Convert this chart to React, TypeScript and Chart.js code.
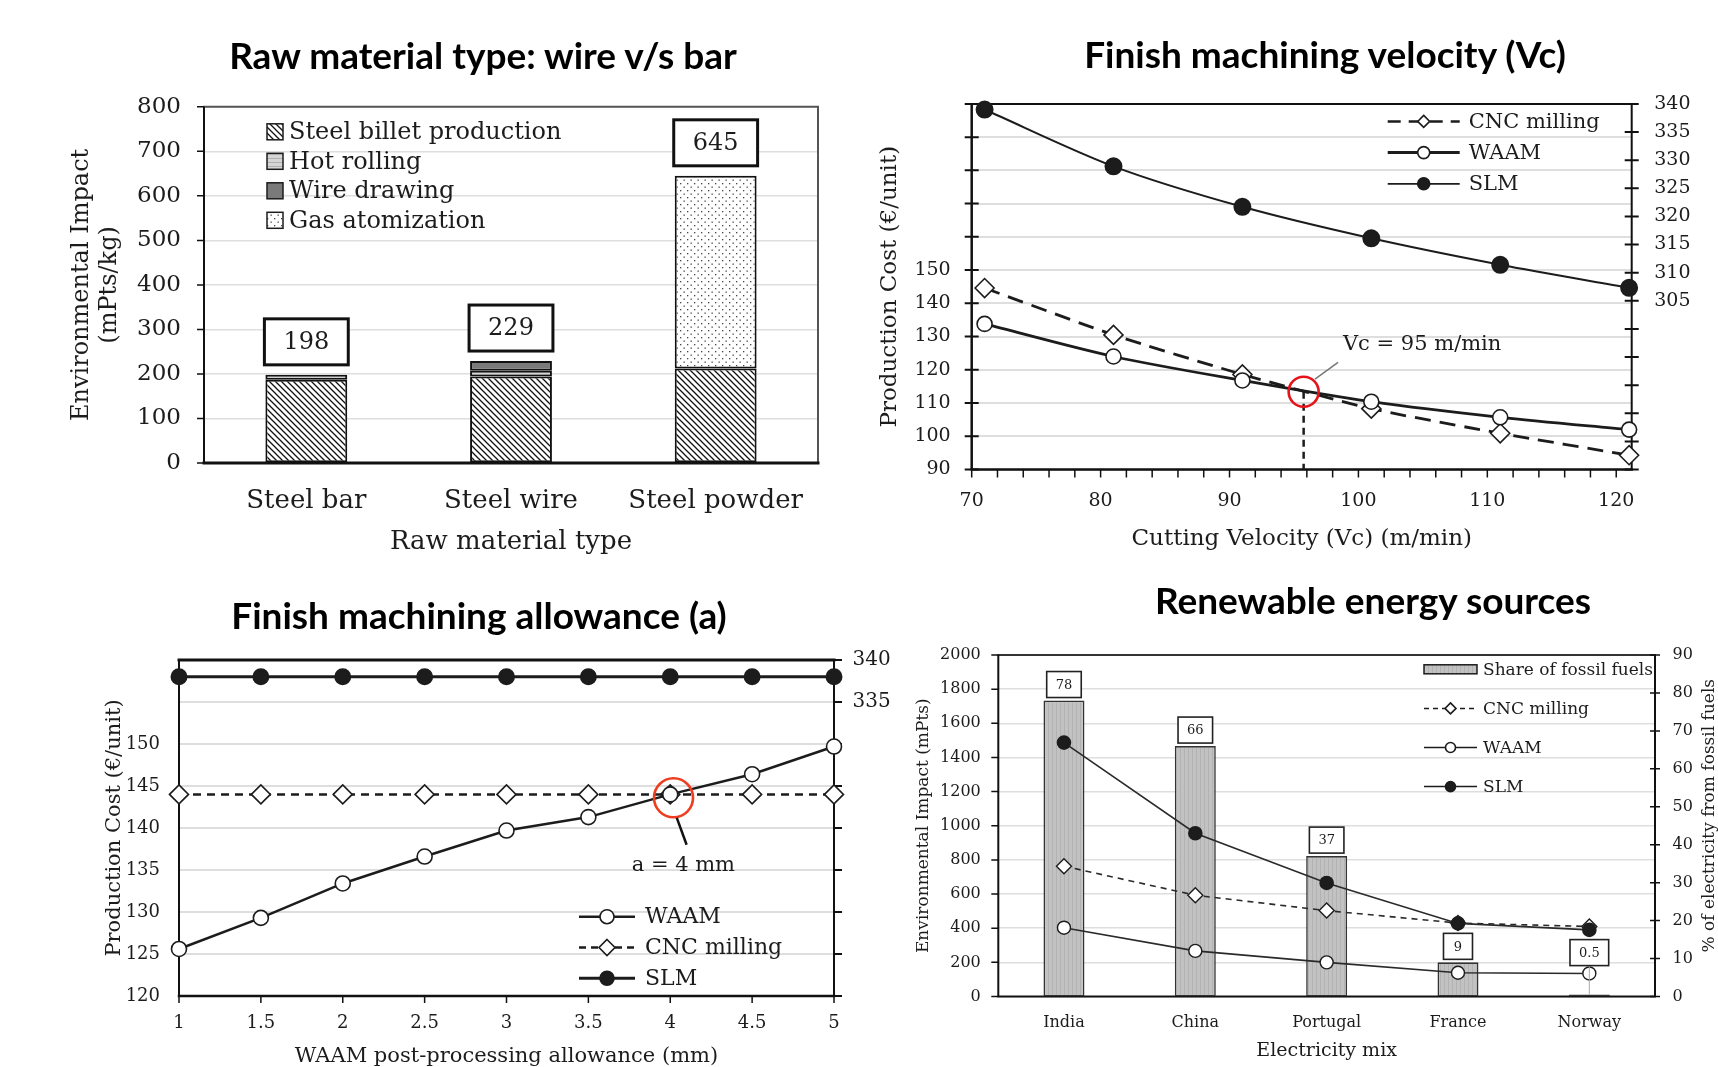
import { useEffect, useRef } from "react";
import { Chart, registerables } from "chart.js";

Chart.register(...registerables);

const SERIF = '"DejaVu Serif", "Liberation Serif", serif';
const TITLE_FAMILY = 'Lato, "Open Sans", sans-serif';
const INK = "#1c1c1c";
const GRID = "#dedede";

// ---------------- Panel 1: Raw material type ----------------
const rawCategories = ["Steel bar", "Steel wire", "Steel powder"];
const billetProduction = [187, 194, 212];
const hotRolling = [11, 13, null];
const wireDrawing = [null, 22, null];
const gasAtomization = [null, null, 433];
const rawTotals = [198, 229, 645];
const rawTotalLabels = ["198", "229", "645"];
const rawYTicks = [0, 100, 200, 300, 400, 500, 600, 700, 800];

// ---------------- Panel 2: Finish machining velocity ----------------
const velocityX = [71, 81, 91, 101, 111, 121];
const velocityCnc = [144.6, 130.5, 118.6, 108.3, 100.9, 94.3];
const velocityWaam = [133.8, 124.0, 116.8, 110.4, 105.7, 102.0];
const velocitySlm = [339.0, 328.9, 321.7, 316.1, 311.4, 307.3];
const velocityXTicks = [70, 72, 74, 76, 78, 80, 82, 84, 86, 88, 90, 92, 94, 96, 98, 100, 102, 104, 106, 108, 110, 112, 114, 116, 118, 120];
const velocityCostTicks = [90, 100, 110, 120, 130, 140, 150, 160, 170, 180, 190, 200];
const velocitySlmTicks = [275, 280, 285, 290, 295, 300, 305, 310, 315, 320, 325, 330, 335, 340];
const velocityBreakEvenX = 95.75;
const velocityBreakEvenCost = 113.4;
const velocityBreakEvenLabel = "Vc = 95 m/min";

// ---------------- Panel 3: Finish machining allowance ----------------
const allowanceX = [1, 1.5, 2, 2.5, 3, 3.5, 4, 4.5, 5];
const allowanceWaam = [125.6, 129.3, 133.4, 136.6, 139.7, 141.3, 144.0, 146.4, 149.7];
const allowanceCnc = [144.0, 144.0, 144.0, 144.0, 144.0, 144.0, 144.0, 144.0, 144.0];
const allowanceSlm = [338.0, 338.0, 338.0, 338.0, 338.0, 338.0, 338.0, 338.0, 338.0];
const allowanceXTicks = [1, 1.5, 2, 2.5, 3, 3.5, 4, 4.5, 5];
const allowanceCostTicks = [120, 125, 130, 135, 140, 145, 150, 155, 160];
const allowanceSlmTicks = [300, 305, 310, 315, 320, 325, 330, 335, 340];
const allowanceBreakEvenX = 4.02;
const allowanceBreakEvenCost = 143.6;
const allowanceBreakEvenLabel = "a = 4 mm";

// ---------------- Panel 4: Renewable energy sources ----------------
const mixCategories = ["India", "China", "Portugal", "France", "Norway"];
const fossilShare = [78, 66, 37, 9, 0.5];
const fossilShareLabels = ["78", "66", "37", "9", "0.5"];
const mixCnc = [763, 593, 503, 430, 410];
const mixWaam = [403, 267, 200, 139, 135];
const mixSlm = [1487, 956, 665, 428, 390];
const mixImpactTicks = [0, 200, 400, 600, 800, 1000, 1200, 1400, 1600, 1800, 2000];
const mixShareTicks = [0, 10, 20, 30, 40, 50, 60, 70, 80, 90];

// ---------------- helpers ----------------
function font(size: number) {
  return `${size}px ${SERIF}`;
}

function makeTile(w: number, h: number, paint: (g: CanvasRenderingContext2D) => void) {
  const c = document.createElement("canvas");
  c.width = w;
  c.height = h;
  paint(c.getContext("2d")!);
  return c;
}

function hatchPattern(ctx: CanvasRenderingContext2D) {
  const t = makeTile(6, 6, (g) => {
    g.fillStyle = "#fff";
    g.fillRect(0, 0, 6, 6);
    g.strokeStyle = "#111";
    g.lineWidth = 1.3;
    g.beginPath();
    g.moveTo(-1, -1);
    g.lineTo(7, 7);
    g.moveTo(-1, 5);
    g.lineTo(1, 7);
    g.moveTo(5, -1);
    g.lineTo(7, 1);
    g.stroke();
  });
  return ctx.createPattern(t, "repeat")!;
}

function lightPattern(ctx: CanvasRenderingContext2D) {
  const t = makeTile(4, 4, (g) => {
    g.fillStyle = "#d6d6d6";
    g.fillRect(0, 0, 4, 4);
    g.fillStyle = "#b0b0b0";
    g.fillRect(0, 0, 4, 1);
  });
  return ctx.createPattern(t, "repeat")!;
}

function dotPattern(ctx: CanvasRenderingContext2D) {
  const t = makeTile(7, 7, (g) => {
    g.fillStyle = "#fff";
    g.fillRect(0, 0, 7, 7);
    g.fillStyle = "#444";
    g.fillRect(1, 1, 1.3, 1.3);
    g.fillRect(4.5, 4.5, 1.3, 1.3);
  });
  return ctx.createPattern(t, "repeat")!;
}

function stripePattern(ctx: CanvasRenderingContext2D) {
  const t = makeTile(4, 4, (g) => {
    g.fillStyle = "#c2c2c2";
    g.fillRect(0, 0, 4, 4);
    g.fillStyle = "#b2b2b2";
    g.fillRect(0, 0, 1, 4);
  });
  return ctx.createPattern(t, "repeat")!;
}

function drawMarker(ctx: CanvasRenderingContext2D, kind: string, x: number, y: number, r: number) {
  ctx.save();
  ctx.setLineDash([]);
  ctx.beginPath();
  if (kind === "diamond") {
    ctx.moveTo(x, y - r);
    ctx.lineTo(x + r, y);
    ctx.lineTo(x, y + r);
    ctx.lineTo(x - r, y);
    ctx.closePath();
  } else {
    ctx.arc(x, y, r, 0, Math.PI * 2);
  }
  ctx.fillStyle = kind === "dot" ? INK : "#fff";
  ctx.fill();
  ctx.lineWidth = 1.6;
  ctx.strokeStyle = INK;
  ctx.stroke();
  ctx.restore();
}

type Side = { side: "top" | "right" | "bottom" | "left"; color: string; width: number };
function framePlugin(sides: Side[]) {
  return {
    id: "frame",
    beforeDatasetsDraw(chart: any) {
      const { ctx, chartArea: a } = chart;
      ctx.save();
      sides.forEach((s) => {
        ctx.strokeStyle = s.color;
        ctx.lineWidth = s.width;
        ctx.beginPath();
        if (s.side === "top") {
          ctx.moveTo(a.left - s.width / 2, a.top);
          ctx.lineTo(a.right + s.width / 2, a.top);
        } else if (s.side === "bottom") {
          ctx.moveTo(a.left - s.width / 2, a.bottom);
          ctx.lineTo(a.right + s.width / 2, a.bottom);
        } else if (s.side === "left") {
          ctx.moveTo(a.left, a.top);
          ctx.lineTo(a.left, a.bottom);
        } else {
          ctx.moveTo(a.right, a.top);
          ctx.lineTo(a.right, a.bottom);
        }
        ctx.stroke();
      });
      ctx.restore();
    },
  };
}

type MarkSpec = { axis: string; inner: number; outer: number; width: number; color: string };
function marksPlugin(specs: MarkSpec[]) {
  return {
    id: "marks",
    beforeDatasetsDraw(chart: any) {
      const ctx = chart.ctx;
      specs.forEach((sp) => {
        const s = chart.scales[sp.axis];
        ctx.save();
        ctx.strokeStyle = sp.color;
        ctx.lineWidth = sp.width;
        ctx.beginPath();
        s.ticks.forEach((_t: any, i: number) => {
          const p = s.getPixelForTick(i);
          if (s.position === "left") {
            ctx.moveTo(s.right - sp.outer, p);
            ctx.lineTo(s.right + sp.inner, p);
          } else if (s.position === "right") {
            ctx.moveTo(s.left - sp.inner, p);
            ctx.lineTo(s.left + sp.outer, p);
          } else {
            ctx.moveTo(p, s.top - sp.inner);
            ctx.lineTo(p, s.top + sp.outer);
          }
        });
        ctx.stroke();
        ctx.restore();
      });
    },
  };
}

type LegendEntry = {
  label: string;
  kind: "box" | "line";
  fill?: any;
  dash?: number[];
  lineWidth?: number;
  marker?: string;
  markerR?: number;
};
type LegendCfg = { x: number; y: number; row: number; symW: number; symH: number; gap: number; size: number; items: LegendEntry[] };
function legendPlugin(cfg: LegendCfg) {
  return {
    id: "customLegend",
    afterDatasetsDraw(chart: any) {
      const { ctx, chartArea: a } = chart;
      ctx.save();
      cfg.items.forEach((it, i) => {
        const x0 = a.left + cfg.x;
        const cy = a.top + cfg.y + i * cfg.row;
        if (it.kind === "box") {
          ctx.fillStyle = it.fill;
          ctx.fillRect(x0, cy - cfg.symH / 2, cfg.symW, cfg.symH);
          ctx.lineWidth = 1.5;
          ctx.strokeStyle = INK;
          ctx.strokeRect(x0, cy - cfg.symH / 2, cfg.symW, cfg.symH);
        } else {
          ctx.save();
          ctx.strokeStyle = INK;
          ctx.lineWidth = it.lineWidth || 2;
          ctx.setLineDash(it.dash || []);
          ctx.beginPath();
          ctx.moveTo(x0, cy);
          ctx.lineTo(x0 + cfg.symW, cy);
          ctx.stroke();
          ctx.restore();
          if (it.marker) drawMarker(ctx, it.marker, x0 + cfg.symW / 2, cy, it.markerR || 5);
        }
        ctx.fillStyle = INK;
        ctx.font = font(cfg.size);
        ctx.textAlign = "left";
        ctx.textBaseline = "middle";
        ctx.fillText(it.label, x0 + cfg.symW + cfg.gap, cy + 1);
      });
      ctx.restore();
    },
  };
}

type Callout = {
  x: number;
  y: number;
  yAxis: string;
  r: number;
  ring: string;
  drop: boolean;
  leader: number[];
  leaderColor: string;
  leaderWidth: number;
  text: string;
  tx: number;
  ty: number;
  size: number;
  align: CanvasTextAlign;
};
function calloutPlugin(c: Callout) {
  return {
    id: "callout",
    afterDatasetsDraw(chart: any) {
      const { ctx, chartArea: a } = chart;
      const xs = chart.scales.x;
      const ys = chart.scales[c.yAxis];
      const cx = xs.getPixelForValue(c.x);
      const cy = ys.getPixelForValue(c.y);
      ctx.save();
      if (c.drop) {
        ctx.strokeStyle = INK;
        ctx.lineWidth = 2.5;
        ctx.setLineDash([7, 5]);
        ctx.beginPath();
        ctx.moveTo(cx, cy);
        ctx.lineTo(cx, a.bottom);
        ctx.stroke();
        ctx.setLineDash([]);
      }
      ctx.strokeStyle = c.ring;
      ctx.lineWidth = 2.6;
      ctx.beginPath();
      ctx.arc(cx, cy, c.r, 0, Math.PI * 2);
      ctx.stroke();
      ctx.strokeStyle = c.leaderColor;
      ctx.lineWidth = c.leaderWidth;
      ctx.beginPath();
      ctx.moveTo(xs.getPixelForValue(c.leader[0]), ys.getPixelForValue(c.leader[1]));
      ctx.lineTo(xs.getPixelForValue(c.leader[2]), ys.getPixelForValue(c.leader[3]));
      ctx.stroke();
      ctx.fillStyle = INK;
      ctx.font = font(c.size);
      ctx.textAlign = c.align;
      ctx.textBaseline = "middle";
      ctx.fillText(c.text, xs.getPixelForValue(c.tx), ys.getPixelForValue(c.ty));
      ctx.restore();
    },
  };
}

function stackTotalsPlugin(totals: number[], labels: string[]) {
  return {
    id: "stackTotals",
    afterDatasetsDraw(chart: any) {
      const { ctx } = chart;
      const xs = chart.scales.x;
      const ys = chart.scales.y;
      const meta = chart.getDatasetMeta(0);
      ctx.save();
      totals.forEach((t, i) => {
        const w = meta.data[i].width + 2;
        const cx = xs.getPixelForValue(i);
        const bottom = ys.getPixelForValue(t) - 10;
        const h = 46;
        ctx.fillStyle = "#fff";
        ctx.fillRect(cx - w / 2, bottom - h, w, h);
        ctx.strokeStyle = "#111";
        ctx.lineWidth = 3;
        ctx.strokeRect(cx - w / 2, bottom - h, w, h);
        ctx.fillStyle = INK;
        ctx.font = font(24);
        ctx.textAlign = "center";
        ctx.textBaseline = "middle";
        ctx.fillText(labels[i], cx, bottom - h / 2 + 1);
      });
      ctx.restore();
    },
  };
}

function shareLabelsPlugin(values: number[], labels: string[], lifts: number[]) {
  return {
    id: "shareLabels",
    afterDatasetsDraw(chart: any) {
      const { ctx } = chart;
      const xs = chart.scales.x;
      const ys = chart.scales.y1;
      ctx.save();
      ctx.font = font(13);
      values.forEach((v, i) => {
        const cx = xs.getPixelForValue(i);
        const barTop = ys.getPixelForValue(v);
        const bottom = barTop - 3 - lifts[i];
        const h = 26;
        const w = Math.max(ctx.measureText(labels[i]).width + 18, 29);
        if (lifts[i] > 0) {
          ctx.strokeStyle = "#aaa";
          ctx.lineWidth = 1;
          ctx.beginPath();
          ctx.moveTo(cx, bottom);
          ctx.lineTo(cx, barTop);
          ctx.stroke();
        }
        ctx.fillStyle = "#fff";
        ctx.fillRect(cx - w / 2, bottom - h, w, h);
        ctx.strokeStyle = "#222";
        ctx.lineWidth = 1.6;
        ctx.strokeRect(cx - w / 2, bottom - h, w, h);
        ctx.fillStyle = INK;
        ctx.textAlign = "center";
        ctx.textBaseline = "middle";
        ctx.fillText(labels[i], cx, bottom - h / 2 + 1);
      });
      ctx.restore();
    },
  };
}

function sideTitlePlugin(text: string, size: number, dx: number) {
  return {
    id: "sideTitle",
    afterDraw(chart: any) {
      const { ctx, chartArea: a } = chart;
      ctx.save();
      ctx.translate(a.right + dx, (a.top + a.bottom) / 2 - 10);
      ctx.rotate(-Math.PI / 2);
      ctx.fillStyle = INK;
      ctx.font = font(size);
      ctx.textAlign = "center";
      ctx.textBaseline = "middle";
      ctx.fillText(text, 0, 0);
      ctx.restore();
    },
  };
}

function setTicks(values: number[]) {
  return (s: any) => {
    s.ticks = values.map((v) => ({ value: v }));
  };
}

const plain = (v: number) => String(v);

const baseOptions = {
  responsive: false,
  animation: false,
  devicePixelRatio: 1,
  events: [],
};
const noPlugins = { legend: { display: false }, tooltip: { enabled: false } };

// ---------------- chart builders ----------------
function buildRaw(ctx: CanvasRenderingContext2D): any {
  const hatch = hatchPattern(ctx);
  const light = lightPattern(ctx);
  const dots = dotPattern(ctx);
  const common = { borderColor: "#111", borderWidth: 2, barPercentage: 0.4, categoryPercentage: 1, borderSkipped: false };
  return {
    type: "bar",
    data: {
      labels: rawCategories,
      datasets: [
        { label: "Steel billet production", data: billetProduction, backgroundColor: hatch, ...common },
        { label: "Hot rolling", data: hotRolling, backgroundColor: light, ...common },
        { label: "Wire drawing", data: wireDrawing, backgroundColor: "#7a7a7a", ...common },
        { label: "Gas atomization", data: gasAtomization, backgroundColor: dots, ...common },
      ],
    },
    options: {
      ...baseOptions,
      layout: { padding: { top: 31, right: 42, left: 0, bottom: 0 } },
      plugins: noPlugins,
      scales: {
        x: {
          stacked: true,
          grid: { display: false, drawTicks: false },
          border: { display: false },
          ticks: { font: { family: SERIF, size: 26 }, color: INK, padding: 23 },
          title: { display: true, text: "Raw material type", font: { family: SERIF, size: 26 }, color: INK, padding: { top: 0, bottom: 2 } },
          afterFit: (s: any) => {
            s.height = 97;
          },
        },
        y: {
          stacked: true,
          min: 0,
          max: 800,
          afterBuildTicks: setTicks(rawYTicks),
          grid: { color: GRID, lineWidth: 1.5, drawTicks: false },
          border: { display: false },
          ticks: { font: { family: SERIF, size: 23 }, color: INK, padding: 23, callback: plain },
          title: {
            display: true,
            text: ["Environmental Impact", "(mPts/kg)"],
            font: { family: SERIF, size: 24, lineHeight: 1.17 },
            color: INK,
            padding: { top: 68, bottom: 0 },
          },
          afterFit: (s: any) => {
            s.width = 204;
          },
        },
      },
    },
    plugins: [
      framePlugin([
        { side: "top", color: "#555", width: 2 },
        { side: "right", color: "#555", width: 2 },
        { side: "left", color: "#111", width: 2 },
        { side: "bottom", color: "#111", width: 3 },
      ]),
      marksPlugin([{ axis: "y", inner: 0, outer: 7, width: 1.5, color: "#111" }]),
      legendPlugin({
        x: 63,
        y: 25,
        row: 29.5,
        symW: 16,
        symH: 16,
        gap: 6,
        size: 24,
        items: [
          { label: "Steel billet production", kind: "box", fill: hatch },
          { label: "Hot rolling", kind: "box", fill: light },
          { label: "Wire drawing", kind: "box", fill: "#7a7a7a" },
          { label: "Gas atomization", kind: "box", fill: dots },
        ],
      }),
      stackTotalsPlugin(rawTotals, rawTotalLabels),
    ],
  };
}

function buildVelocity(_ctx: CanvasRenderingContext2D): any {
  const pts = (ys: number[]) => velocityX.map((x, i) => ({ x, y: ys[i] }));
  return {
    type: "line",
    data: {
      datasets: [
        {
          label: "SLM",
          yAxisID: "y1",
          data: pts(velocitySlm),
          borderColor: INK,
          borderWidth: 2,
          tension: 0.3,
          pointStyle: "circle",
          pointRadius: 8,
          pointBackgroundColor: INK,
          pointBorderColor: INK,
          clip: false,
        },
        {
          label: "WAAM",
          yAxisID: "y",
          data: pts(velocityWaam),
          borderColor: INK,
          borderWidth: 2.8,
          tension: 0.3,
          pointStyle: "circle",
          pointRadius: 7.5,
          pointBackgroundColor: "#fff",
          pointBorderColor: INK,
          pointBorderWidth: 1.6,
          clip: false,
        },
        {
          label: "CNC milling",
          yAxisID: "y",
          data: pts(velocityCnc),
          borderColor: INK,
          borderWidth: 2.8,
          borderDash: [16, 9],
          tension: 0.2,
          pointStyle: "rectRot",
          pointRadius: 9.5,
          pointBackgroundColor: "#fff",
          pointBorderColor: INK,
          pointBorderWidth: 1.6,
          clip: false,
        },
      ],
    },
    options: {
      ...baseOptions,
      layout: { padding: { top: 28, right: 0, left: 0, bottom: 0 } },
      plugins: noPlugins,
      scales: {
        x: {
          type: "linear",
          min: 70,
          max: 121.2,
          afterBuildTicks: setTicks(velocityXTicks),
          grid: { display: false, drawTicks: false },
          border: { display: false },
          ticks: {
            font: { family: SERIF, size: 19 },
            color: INK,
            padding: 20,
            autoSkip: false,
            maxRotation: 0,
            callback: (v: number) => (v % 10 === 0 ? String(v) : ""),
          },
          title: { display: true, text: "Cutting Velocity (Vc) (m/min)", font: { family: SERIF, size: 23 }, color: INK, padding: { top: 0, bottom: 7 } },
          afterFit: (s: any) => {
            s.height = 90.5;
          },
        },
        y: {
          position: "left",
          min: 90,
          max: 200,
          afterBuildTicks: setTicks(velocityCostTicks),
          grid: { color: GRID, lineWidth: 2, drawTicks: false },
          border: { display: false },
          ticks: { font: { family: SERIF, size: 19 }, color: INK, padding: 21, callback: (v: number) => (v <= 150 ? String(v) : "") },
          title: { display: true, text: "Production Cost (€/unit)", font: { family: SERIF, size: 23 }, color: INK, padding: { top: 16, bottom: 0 } },
          afterFit: (s: any) => {
            s.width = 111.7;
          },
        },
        y1: {
          position: "right",
          min: 275,
          max: 340,
          afterBuildTicks: setTicks(velocitySlmTicks),
          grid: { display: false, drawTicks: false },
          border: { display: false },
          ticks: { font: { family: SERIF, size: 19 }, color: INK, padding: 22.5, callback: (v: number) => (v >= 305 ? String(v) : "") },
          afterFit: (s: any) => {
            s.width = 86.3;
          },
        },
      },
    },
    plugins: [
      framePlugin([
        { side: "top", color: "#111", width: 2 },
        { side: "right", color: "#111", width: 2 },
        { side: "left", color: "#111", width: 2.5 },
        { side: "bottom", color: "#111", width: 2.5 },
      ]),
      marksPlugin([
        { axis: "y", inner: 7, outer: 7, width: 2, color: "#111" },
        { axis: "y1", inner: 7, outer: 7, width: 2, color: "#111" },
        { axis: "x", inner: 0, outer: 8, width: 1.5, color: "#111" },
      ]),
      legendPlugin({
        x: 416,
        y: 17.5,
        row: 31.2,
        symW: 72,
        symH: 0,
        gap: 9,
        size: 21,
        items: [
          { label: "CNC milling", kind: "line", dash: [13, 8], lineWidth: 2.5, marker: "diamond", markerR: 6 },
          { label: "WAAM", kind: "line", lineWidth: 3, marker: "circle", markerR: 6 },
          { label: "SLM", kind: "line", lineWidth: 1.8, marker: "dot", markerR: 6 },
        ],
      }),
      calloutPlugin({
        x: velocityBreakEvenX,
        y: velocityBreakEvenCost,
        yAxis: "y",
        r: 15,
        ring: "#e5141b",
        drop: true,
        leader: [96.63, 117.2, 98.42, 122.2],
        leaderColor: "#777",
        leaderWidth: 1.5,
        text: velocityBreakEvenLabel,
        tx: 98.8,
        ty: 127.5,
        size: 21,
        align: "left",
      }),
    ],
  };
}

function buildAllowance(_ctx: CanvasRenderingContext2D): any {
  const pts = (ys: number[]) => allowanceX.map((x, i) => ({ x, y: ys[i] }));
  return {
    type: "line",
    data: {
      datasets: [
        {
          label: "WAAM",
          yAxisID: "y",
          data: pts(allowanceWaam),
          borderColor: INK,
          borderWidth: 2.5,
          pointStyle: "circle",
          pointRadius: 7.5,
          pointBackgroundColor: "#fff",
          pointBorderColor: INK,
          pointBorderWidth: 1.6,
          clip: false,
        },
        {
          label: "CNC milling",
          yAxisID: "y",
          data: pts(allowanceCnc),
          borderColor: INK,
          borderWidth: 2.5,
          borderDash: [8, 6],
          pointStyle: "rectRot",
          pointRadius: 9.5,
          pointBackgroundColor: "#fff",
          pointBorderColor: INK,
          pointBorderWidth: 1.6,
          clip: false,
        },
        {
          label: "SLM",
          yAxisID: "y1",
          data: pts(allowanceSlm),
          borderColor: INK,
          borderWidth: 3,
          pointStyle: "circle",
          pointRadius: 7,
          pointBackgroundColor: INK,
          pointBorderColor: INK,
          clip: false,
        },
      ],
    },
    options: {
      ...baseOptions,
      layout: { padding: { top: 80, right: 0, left: 0, bottom: 0 } },
      plugins: noPlugins,
      scales: {
        x: {
          type: "linear",
          min: 1,
          max: 5,
          afterBuildTicks: setTicks(allowanceXTicks),
          grid: { display: false, drawTicks: false },
          border: { display: false },
          ticks: { font: { family: SERIF, size: 18 }, color: INK, padding: 17, autoSkip: false, maxRotation: 0, callback: plain },
          title: {
            display: true,
            text: "WAAM post-processing allowance (mm)",
            font: { family: SERIF, size: 21 },
            color: INK,
            padding: { top: 0, bottom: -2 },
          },
          afterFit: (s: any) => {
            s.height = 71;
          },
        },
        y: {
          position: "left",
          min: 120,
          max: 160,
          afterBuildTicks: setTicks(allowanceCostTicks),
          grid: { color: GRID, lineWidth: 2, drawTicks: false },
          border: { display: false },
          ticks: { font: { family: SERIF, size: 18 }, color: INK, padding: 19, callback: (v: number) => (v <= 150 ? String(v) : "") },
          title: { display: true, text: "Production Cost (€/unit)", font: { family: SERIF, size: 21 }, color: INK, padding: { top: 102, bottom: 0 } },
          afterFit: (s: any) => {
            s.width = 179;
          },
        },
        y1: {
          position: "right",
          min: 300,
          max: 340,
          afterBuildTicks: setTicks(allowanceSlmTicks),
          grid: { display: false, drawTicks: false },
          border: { display: false },
          ticks: { font: { family: SERIF, size: 20 }, color: INK, padding: 18.5, callback: (v: number) => (v >= 335 ? String(v) : "") },
          afterFit: (s: any) => {
            s.width = 66;
          },
        },
      },
    },
    plugins: [
      framePlugin([
        { side: "top", color: "#111", width: 3 },
        { side: "right", color: "#111", width: 2 },
        { side: "left", color: "#111", width: 2 },
        { side: "bottom", color: "#111", width: 2.5 },
      ]),
      marksPlugin([
        { axis: "y1", inner: 0, outer: 8, width: 2, color: "#111" },
        { axis: "x", inner: 0, outer: 7, width: 1.5, color: "#111" },
      ]),
      legendPlugin({
        x: 400,
        y: 256.7,
        row: 30.8,
        symW: 56,
        symH: 0,
        gap: 10,
        size: 22,
        items: [
          { label: "WAAM", kind: "line", lineWidth: 2.5, marker: "circle", markerR: 7 },
          { label: "CNC milling", kind: "line", dash: [7, 5], lineWidth: 2.5, marker: "diamond", markerR: 8 },
          { label: "SLM", kind: "line", lineWidth: 3, marker: "dot", markerR: 7 },
        ],
      }),
      calloutPlugin({
        x: allowanceBreakEvenX,
        y: allowanceBreakEvenCost,
        yAxis: "y",
        r: 19.5,
        ring: "#ee3d1f",
        drop: false,
        leader: [4.04, 141.2, 4.1, 138.0],
        leaderColor: "#111",
        leaderWidth: 2.5,
        text: allowanceBreakEvenLabel,
        tx: 4.08,
        ty: 135.5,
        size: 21,
        align: "center",
      }),
    ],
  };
}

function buildMix(ctx: CanvasRenderingContext2D): any {
  const stripes = stripePattern(ctx);
  return {
    type: "bar",
    data: {
      labels: mixCategories,
      datasets: [
        {
          type: "line",
          label: "SLM",
          yAxisID: "y",
          data: mixSlm,
          order: 1,
          borderColor: "#2a2a2a",
          borderWidth: 1.6,
          pointStyle: "circle",
          pointRadius: 6.5,
          pointBackgroundColor: INK,
          pointBorderColor: INK,
          clip: false,
        },
        {
          type: "line",
          label: "CNC milling",
          yAxisID: "y",
          data: mixCnc,
          order: 1,
          borderColor: "#2a2a2a",
          borderWidth: 1.6,
          borderDash: [6, 5],
          pointStyle: "rectRot",
          pointRadius: 7.5,
          pointBackgroundColor: "#fff",
          pointBorderColor: INK,
          pointBorderWidth: 1.4,
          clip: false,
        },
        {
          type: "line",
          label: "WAAM",
          yAxisID: "y",
          data: mixWaam,
          order: 1,
          borderColor: "#2a2a2a",
          borderWidth: 1.6,
          pointStyle: "circle",
          pointRadius: 6.5,
          pointBackgroundColor: "#fff",
          pointBorderColor: INK,
          pointBorderWidth: 1.4,
          clip: false,
        },
        {
          type: "bar",
          label: "Share of fossil fuels",
          yAxisID: "y1",
          data: fossilShare,
          order: 2,
          backgroundColor: stripes,
          borderColor: "#333",
          borderWidth: 1.6,
          borderSkipped: false,
          barPercentage: 0.312,
          categoryPercentage: 1,
        },
      ],
    },
    options: {
      ...baseOptions,
      layout: { padding: { top: 75, right: 0, left: 0, bottom: 0 } },
      plugins: noPlugins,
      scales: {
        x: {
          grid: { display: false, drawTicks: false },
          border: { display: false },
          ticks: { font: { family: SERIF, size: 16 }, color: INK, padding: 17 },
          title: { display: true, text: "Electricity mix", font: { family: SERIF, size: 19 }, color: INK, padding: { top: 0, bottom: 4.5 } },
          afterFit: (s: any) => {
            s.height = 70.5;
          },
        },
        y: {
          position: "left",
          min: 0,
          max: 2000,
          afterBuildTicks: setTicks(mixImpactTicks),
          grid: { color: GRID, lineWidth: 1.5, drawTicks: false },
          border: { display: false },
          ticks: { font: { family: SERIF, size: 16 }, color: INK, padding: 17.5, callback: plain },
          title: { display: true, text: "Environmental Impact (mPts)", font: { family: SERIF, size: 17 }, color: INK, padding: { top: 53.5, bottom: 0 } },
          afterFit: (s: any) => {
            s.width = 138.3;
          },
        },
        y1: {
          position: "right",
          min: 0,
          max: 90,
          afterBuildTicks: setTicks(mixShareTicks),
          grid: { display: false, drawTicks: false },
          border: { display: false },
          ticks: { font: { family: SERIF, size: 16 }, color: INK, padding: 17.5, callback: plain },
          afterFit: (s: any) => {
            s.width = 63;
          },
        },
      },
    },
    plugins: [
      framePlugin([
        { side: "top", color: "#333", width: 2 },
        { side: "right", color: "#111", width: 2 },
        { side: "left", color: "#111", width: 2 },
        { side: "bottom", color: "#111", width: 2 },
      ]),
      marksPlugin([
        { axis: "y", inner: 0, outer: 7, width: 1.5, color: "#111" },
        { axis: "y1", inner: 5, outer: 5, width: 1.5, color: "#111" },
      ]),
      shareLabelsPlugin(fossilShare, fossilShareLabels, [0, 0, 0, 0, 26]),
      legendPlugin({
        x: 425.7,
        y: 14.3,
        row: 39.1,
        symW: 53,
        symH: 9,
        gap: 6,
        size: 17,
        items: [
          { label: "Share of fossil fuels", kind: "box", fill: stripes },
          { label: "CNC milling", kind: "line", dash: [5, 4], lineWidth: 1.5, marker: "diamond", markerR: 5.5 },
          { label: "WAAM", kind: "line", lineWidth: 1.5, marker: "circle", markerR: 5 },
          { label: "SLM", kind: "line", lineWidth: 1.5, marker: "dot", markerR: 5 },
        ],
      }),
      sideTitlePlugin("% of electricity from fossil fuels", 17, 55),
    ],
  };
}

// ---------------- components ----------------
type PanelProps = {
  left: number;
  top: number;
  width: number;
  height: number;
  build: (ctx: CanvasRenderingContext2D) => any;
};

function Panel({ left, top, width, height, build }: PanelProps) {
  const ref = useRef<HTMLCanvasElement>(null);
  useEffect(() => {
    const canvas = ref.current!;
    const ctx = canvas.getContext("2d")!;
    const chart = new Chart(canvas, build(ctx));
    return () => chart.destroy();
  }, [build]);
  return <canvas ref={ref} width={width} height={height} style={{ position: "absolute", left, top, width, height }} />;
}

function Title({ text, x, y }: { text: string; x: number; y: number }) {
  return (
    <div
      style={{
        position: "absolute",
        left: x,
        top: y,
        transform: "translate(-50%, -50%)",
        fontFamily: TITLE_FAMILY,
        fontWeight: 700,
        fontSize: 37,
        lineHeight: 1,
        whiteSpace: "nowrap",
        color: "#000",
      }}
    >
      {text}
    </div>
  );
}

export default function App() {
  return (
    <div style={{ position: "fixed", left: 0, top: 0, width: 1718, height: 1067, background: "#fff", overflow: "hidden" }}>
      <Panel left={0} top={70} width={860} height={490} build={buildRaw} />
      <Panel left={860} top={70} width={858} height={490} build={buildVelocity} />
      <Panel left={0} top={580} width={900} height={487} build={buildAllowance} />
      <Panel left={860} top={580} width={858} height={487} build={buildMix} />
      <Title text="Raw material type: wire v/s bar" x={483} y={53.5} />
      <Title text="Finish machining velocity (Vc)" x={1325} y={52.5} />
      <Title text="Finish machining allowance (a)" x={479} y={613.5} />
      <Title text="Renewable energy sources" x={1373} y={598.5} />
    </div>
  );
}
